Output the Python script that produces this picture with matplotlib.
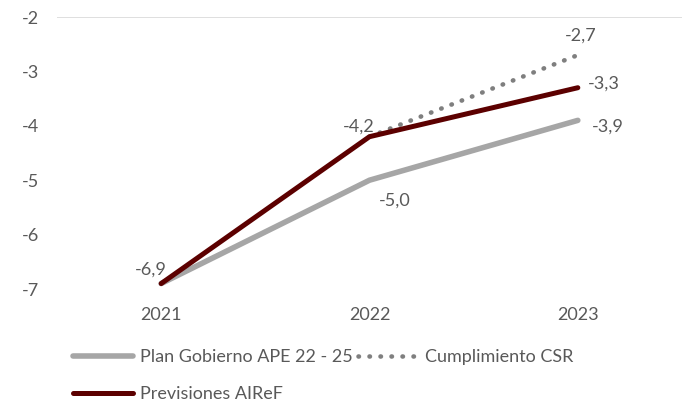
import matplotlib.pyplot as plt
from matplotlib.lines import Line2D

plt.rcParams['font.family'] = ['Lato', 'DejaVu Sans']

years = ['2021', '2022', '2023']
plan_gobierno = [-6.9, -5.0, -3.9]
cumplimiento_csr = [None, -4.2, -2.7]
previsiones_airef = [-6.9, -4.2, -3.3]

text_color = '#595959'
grey = '#A6A6A6'
dots = '#7F7F7F'
maroon = '#5C0000'
fs = 13

fig = plt.figure(figsize=(6.82, 4.0), dpi=100)
ax = fig.add_axes([57 / 682, 1 - 289 / 400, 625 / 682, 272 / 400])

x = list(range(len(years)))
dotted = (0, (0.1, 2.3))
ax.plot(x, plan_gobierno, color=grey, lw=4.0, solid_capstyle='round', zorder=2)
ax.plot(x[1:], cumplimiento_csr[1:], color=dots, lw=3.3,
        linestyle=dotted, dash_capstyle='round', zorder=3)
ax.plot(x, previsiones_airef, color=maroon, lw=3.6, solid_capstyle='round', zorder=4)

ax.set_xlim(-0.5, 2.5)
ax.set_ylim(-7, -2)
ax.set_yticks([-7, -6, -5, -4, -3, -2])
ax.set_yticklabels(['-7', '-6', '-5', '-4', '-3', '-2'])
ax.set_xticks(x)
ax.set_xticklabels(years)
ax.axhline(-2, color='#D9D9D9', lw=1.2, zorder=1)
for s in ax.spines.values():
    s.set_visible(False)
ax.tick_params(length=0, labelsize=fs, colors=text_color)
ax.tick_params(axis='y', pad=13)
ax.tick_params(axis='x', pad=13)


def fmt(v):
    return f'{v:.1f}'.replace('.', ',')


def label(xi, v, dx, dy, ha):
    ax.annotate(fmt(v), (xi, v), xytext=(dx, dy), textcoords='offset points',
                ha=ha, va='center', fontsize=fs, color=text_color, zorder=5)


label(0, previsiones_airef[0], 4, 10, 'right')
label(1, previsiones_airef[1], 4, 7, 'right')
label(1, plan_gobierno[1], 7, -15, 'left')
label(2, plan_gobierno[2], 10, -4.5, 'left')
label(2, previsiones_airef[2], 7, 3, 'left')
label(2, cumplimiento_csr[2], 2, 14, 'center')

handles = [
    Line2D([], [], color=grey, lw=4.0, solid_capstyle='round'),
    Line2D([], [], color=maroon, lw=3.6, solid_capstyle='round'),
    Line2D([], [], color=dots, lw=3.3, linestyle=dotted, dash_capstyle='round'),
]
labels = ['Plan Gobierno APE 22 - 25', 'Previsiones AIReF', 'Cumplimiento CSR']
leg = fig.legend(handles, labels, ncol=2, loc='upper left', bbox_to_anchor=(0.097, 0.145),
                 frameon=False, fontsize=fs, handlelength=3.3, handletextpad=0.4,
                 columnspacing=0.28, labelspacing=1.17, borderaxespad=0)
for t in leg.get_texts():
    t.set_color(text_color)

fig.savefig('out.png', dpi=100)
